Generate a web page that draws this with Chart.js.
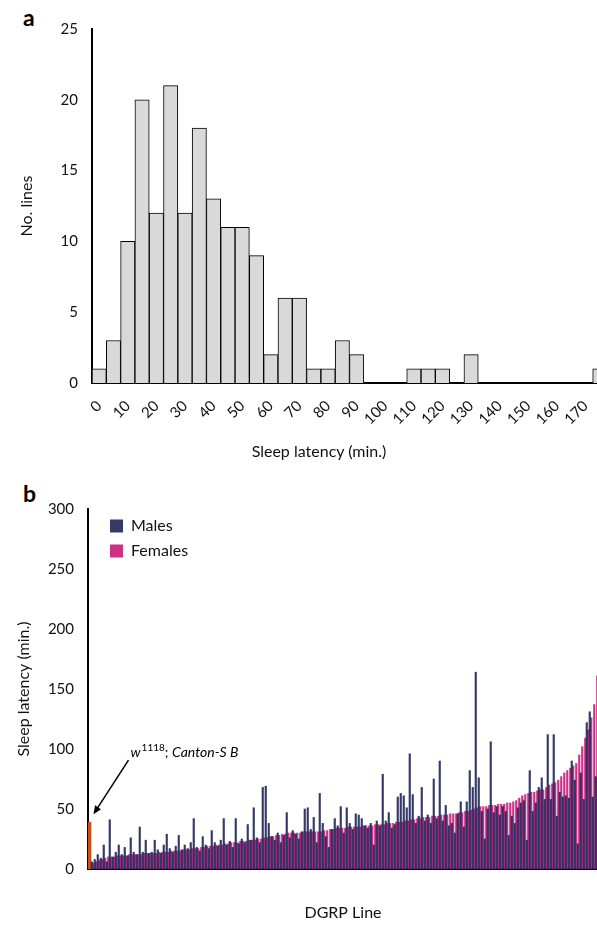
<!DOCTYPE html>
<html>
<head>
<meta charset="utf-8">
<script src="https://cdn.jsdelivr.net/npm/chart.js@4.4.1/dist/chart.umd.min.js"></script>
<style>
    body { margin: 0; background: #fff; overflow: hidden; width: 597px; height: 925px; position: relative; font-family: Lato, sans-serif; }
    .panel { position: absolute; left: 0; }
    .letter { position: absolute; left: 23px; font-weight: bold; font-size: 23px; color: #000; }
    #xTitleA { position: absolute; top: 441px; left: 219px; width: 200px; text-align: center; font-size: 16px; color: #111; }
</style>
</head>
<body>
<div class="letter" style="top: 3px;">a</div>
<div class="panel" style="top: 0; width: 620px; height: 470px;"><canvas id="histChart"></canvas></div>
<div id="xTitleA">Sleep latency (min.)</div>
<div class="letter" style="top: 479px;">b</div>
<div class="panel" style="top: 470px; width: 600px; height: 455px;"><canvas id="lineChart"></canvas></div>
<script>
// panel a: histogram of line means, 5 min bins
const binLabels = ['0', '5', '10', '15', '20', '25', '30', '35', '40', '45', '50', '55',
    '60', '65', '70', '75', '80', '85', '90', '95', '100', '105', '110', '115',
    '120', '125', '130', '135', '140', '145', '150', '155', '160', '165', '170', '175'];
const binCounts = [1, 3, 10, 20, 12, 21, 12, 18, 13, 11, 11, 9,
    2, 6, 6, 1, 1, 3, 2, 0, 0, 0, 1, 1,
    1, 0, 2, 0, 0, 0, 0, 0, 0, 0, 0, 1];
const countTicks = [0, 5, 10, 15, 20, 25];

// panel b: per-line sleep latency, lines sorted by females (first slot = control)
const controlLatency = 39;
const femaleLatency = [
    5, 6, 7, 8, 9, 10, 10, 10, 11, 11,
    11, 11, 12, 12, 12, 12, 12, 13, 13, 13,
    13, 13, 14, 14, 14, 14, 15, 15, 15, 15,
    16, 16, 16, 17, 17, 17, 18, 18, 19, 19,
    19, 20, 20, 20, 21, 21, 22, 22, 22, 23,
    23, 23, 24, 24, 24, 25, 25, 26, 26, 27,
    27, 28, 28, 29, 29, 30, 30, 30, 30, 30,
    31, 31, 31, 31, 31, 31, 31, 32, 32, 33,
    33, 34, 34, 34, 34, 35, 35, 35, 35, 35,
    36, 36, 36, 36, 37, 37, 37, 37, 38, 38,
    38, 39, 39, 39, 40, 40, 41, 41, 42, 42,
    43, 43, 43, 44, 44, 44, 45, 45, 45, 46,
    46, 46, 47, 47, 48, 48, 49, 50, 51, 52,
    52, 52, 53, 53, 53, 54, 54, 54, 55, 55,
    56, 57, 59, 61, 62, 63, 64, 64, 65, 66,
    66, 68, 70, 71, 72, 74, 77, 80, 82, 84,
    86, 88, 95, 102, 109, 116, 126, 137, 161];
const maleLatency = [
    6, 8, 12, 9, 20, 6, 41, 10, 14, 20,
    12, 18, 11, 26, 14, 12, 35, 14, 24, 13,
    14, 24, 16, 13, 20, 29, 17, 14, 19, 28,
    16, 20, 17, 22, 42, 18, 15, 27, 20, 17,
    32, 22, 19, 24, 42, 20, 23, 18, 42, 21,
    25, 22, 37, 24, 51, 26, 22, 68, 69, 38,
    27, 24, 30, 22, 28, 47, 26, 32, 29, 25,
    31, 50, 51, 33, 43, 22, 63, 38, 27, 18,
    33, 42, 36, 52, 30, 51, 38, 33, 46, 45,
    42, 36, 34, 38, 20, 40, 36, 79, 40, 47,
    34, 37, 60, 63, 61, 51, 96, 62, 38, 44,
    68, 40, 45, 38, 75, 42, 90, 40, 53, 36,
    38, 30, 46, 56, 35, 56, 82, 68, 164, 76,
    48, 25, 50, 106, 47, 52, 45, 52, 48, 28,
    44, 38, 51, 55, 57, 24, 82, 48, 55, 68,
    76, 58, 112, 58, 112, 44, 64, 60, 61, 59,
    90, 74, 21, 80, 58, 122, 131, 60, 77];
const latencyTicks = [0, 50, 100, 150, 200, 250, 300];

const tickFont = {family: 'Lato', size: 15};
const titleFont = {family: 'Lato', size: 16};

function renderHistogram() {
    const graph = document.getElementById('histChart').getContext('2d');
    new Chart(graph, {
        type: 'bar',
        data: {
            labels: binLabels,
            datasets: [{
                label: 'No. lines',
                data: binCounts,
                backgroundColor: '#d9d9d9',
                borderColor: '#000',
                borderWidth: 1,
                barPercentage: 1,
                categoryPercentage: 1
            }]
        },
        options: {
            responsive: true,
            maintainAspectRatio: false,
            animation: false,
            layout: {padding: {top: 29, right: 13, left: 0, bottom: 0}},
            plugins: {legend: {display: false}, tooltip: {enabled: false}},
            scales: {
                x: {
                    grid: {display: false},
                    border: {color: '#000', width: 2},
                    ticks: {
                        color: '#111', font: tickFont, autoSkip: false,
                        minRotation: 45, maxRotation: 45, padding: 6,
                        callback: (v, i) => i % 2 === 0 ? binLabels[i] : ''
                    },
                    afterFit: (s) => { s.height = 87; }
                },
                y: {
                    min: 0, max: 25,
                    grid: {display: false},
                    border: {color: '#000', width: 2},
                    ticks: {
                        color: '#111', font: tickFont, padding: 6,
                        stepSize: 5,
                        callback: (v) => countTicks.includes(v) ? v : ''
                    },
                    title: {display: true, text: 'No. lines', color: '#111', font: titleFont, padding: {top: 17, bottom: 0}},
                    afterFit: (s) => { s.width = 92; }
                }
            }
        }
    });
}

// arrow + label pointing at the control line
const controlNote = {
    id: 'controlNote',
    afterDatasetsDraw(chart) {
        const {ctx, scales: {x, y}} = chart;
        const tipX = x.getPixelForValue(0) + 4;
        const tipY = y.getPixelForValue(controlLatency) - 8;
        const tailX = tipX + 35;
        const tailY = tipY - 54;
        const ang = Math.atan2(tipY - tailY, tipX - tailX);
        ctx.save();
        ctx.strokeStyle = '#000';
        ctx.fillStyle = '#000';
        ctx.lineWidth = 1.5;
        ctx.beginPath();
        ctx.moveTo(tailX, tailY);
        ctx.lineTo(tipX - 6 * Math.cos(ang), tipY - 6 * Math.sin(ang));
        ctx.stroke();
        ctx.beginPath();
        ctx.moveTo(tipX, tipY);
        ctx.lineTo(tipX - 9 * Math.cos(ang - 0.4), tipY - 9 * Math.sin(ang - 0.4));
        ctx.lineTo(tipX - 9 * Math.cos(ang + 0.4), tipY - 9 * Math.sin(ang + 0.4));
        ctx.closePath();
        ctx.fill();

        let tx = tailX + 2;
        const ty = tailY - 3;
        ctx.textBaseline = 'alphabetic';
        ctx.font = 'italic 14px Lato';
        ctx.fillText('w', tx, ty);
        tx += ctx.measureText('w').width + 1;
        ctx.font = '10px Lato';
        ctx.fillText('1118', tx, ty - 6);
        tx += ctx.measureText('1118').width;
        ctx.font = '14px Lato';
        ctx.fillText(';', tx, ty);
        tx += ctx.measureText('; ').width;
        ctx.font = 'italic 14px Lato';
        ctx.fillText('Canton-S B', tx, ty);
        ctx.restore();
    }
};

// keep the legend inside the plot, top-left
const legendInside = {
    id: 'legendInside',
    afterLayout(chart) {
        const lg = chart.legend;
        lg.left = chart.chartArea.left + 13;
        lg.top = chart.chartArea.top;
    }
};

function renderLineChart() {
    const lineLabels = [0].concat(femaleLatency.map((v, i) => i + 1));
    const graph = document.getElementById('lineChart').getContext('2d');
    new Chart(graph, {
        type: 'bar',
        data: {
            labels: lineLabels,
            datasets: [
                {
                    label: 'Males',
                    data: [null].concat(maleLatency),
                    backgroundColor: 'rgba(31, 35, 88, 0.9)',
                    borderWidth: 0,
                    barPercentage: 1,
                    categoryPercentage: 1
                },
                {
                    label: 'Females',
                    data: [null].concat(femaleLatency),
                    backgroundColor: 'rgba(201, 38, 128, 0.95)',
                    borderWidth: 0,
                    barPercentage: 1,
                    categoryPercentage: 1
                },
                {
                    label: 'w1118; Canton-S B',
                    data: lineLabels.map((v, i) => i === 0 ? controlLatency : null),
                    backgroundColor: '#c8501a',
                    borderWidth: 0,
                    grouped: false,
                    barPercentage: 1,
                    categoryPercentage: 1
                }
            ]
        },
        options: {
            responsive: true,
            maintainAspectRatio: false,
            animation: false,
            layout: {padding: {top: 39, right: 2, left: 0, bottom: 0}},
            plugins: {
                tooltip: {enabled: false},
                legend: {
                    position: 'chartArea',
                    align: 'start',
                    labels: {
                        color: '#111',
                        font: {family: 'Lato', size: 16},
                        boxWidth: 13,
                        boxHeight: 13,
                        padding: 9,
                        filter: (item) => item.datasetIndex < 2
                    }
                }
            },
            scales: {
                x: {
                    grid: {display: false},
                    border: {color: '#000', width: 2},
                    ticks: {display: false},
                    title: {display: true, text: 'DGRP Line', color: '#111', font: titleFont, padding: {top: 0, bottom: 3}},
                    afterFit: (s) => { s.height = 56; }
                },
                y: {
                    min: 0, max: 300,
                    grid: {display: false},
                    border: {color: '#000', width: 2},
                    ticks: {
                        color: '#111', font: tickFont, padding: 6,
                        stepSize: 50,
                        callback: (v) => latencyTicks.includes(v) ? v : ''
                    },
                    title: {display: true, text: 'Sleep latency (min.)', color: '#111', font: titleFont, padding: {top: 14, bottom: 0}},
                    afterFit: (s) => { s.width = 88; }
                }
            }
        },
        plugins: [controlNote, legendInside]
    });
}

renderHistogram();
renderLineChart();
</script>
</body>
</html>
